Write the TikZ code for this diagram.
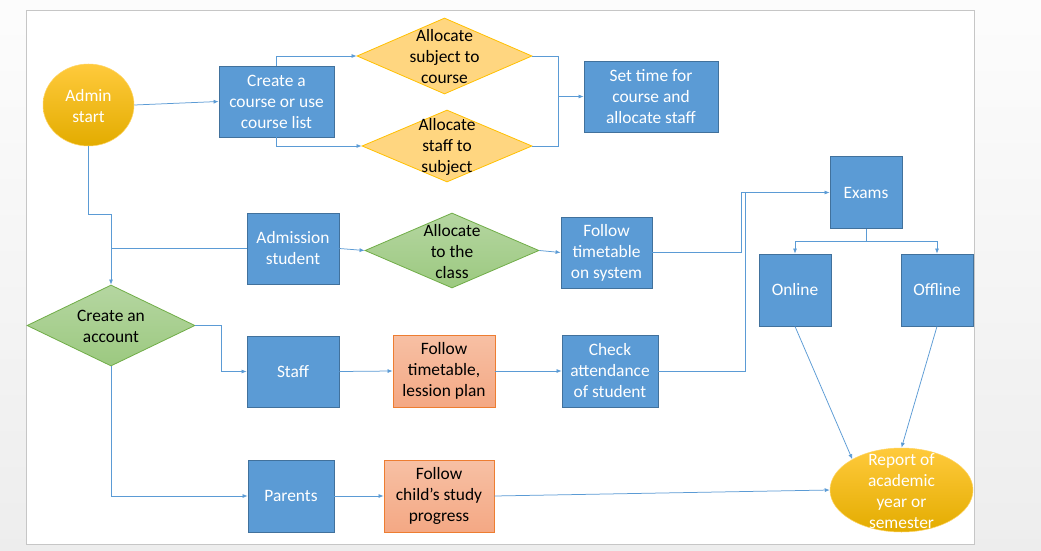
\documentclass[tikz,border=0pt]{standalone}
\usepackage{fontspec}
\setmainfont{Carlito}
\usetikzlibrary{shapes.geometric,arrows.meta}
\definecolor{bfill}{HTML}{5B9BD5}
\definecolor{bdraw}{HTML}{41719C}
\definecolor{conn}{HTML}{5B9BD5}
\definecolor{ofill}{HTML}{FFD680}
\definecolor{odraw}{HTML}{FFC000}
\definecolor{gtop}{HTML}{B5D6A1}
\definecolor{gbot}{HTML}{9CC980}
\definecolor{gdraw}{HTML}{70AD47}
\definecolor{stop}{HTML}{F7C0A4}
\definecolor{sbot}{HTML}{F4A884}
\definecolor{sdraw}{HTML}{ED7D31}
\definecolor{ytop}{HTML}{FFCA3C}
\definecolor{ymid}{HTML}{FFC000}
\definecolor{ybot}{HTML}{E3AC00}
\definecolor{framec}{HTML}{C6C6C6}
\begin{document}
\begin{tikzpicture}[x=1pt,y=-1pt,
  every node/.style={font=\fontsize{17.4pt}{21pt}\selectfont, align=center, inner sep=0pt},
  bluebox/.style={rectangle, draw=bdraw, line width=0.8pt, fill=bfill, text=white},
  salmonbox/.style={rectangle, draw=sdraw, line width=0.8pt, top color=stop, bottom color=sbot, text=black},
  odia/.style={diamond, draw=odraw, line width=0.8pt, fill=ofill},
  gdia/.style={diamond, draw=gdraw, line width=0.8pt, top color=gtop, bottom color=gbot},
  gold/.style={ellipse, draw=ytop!80!white, line width=0.5pt, top color=ytop, middle color=ymid, bottom color=ybot},
  dtxt/.style={text=black},
  wtxt/.style={text=white},
  link/.style={draw=conn, line width=0.75pt},
  arr/.style={link, -{Latex[length=5pt,width=4pt]}}
]
\useasboundingbox (0,0) rectangle (1041,551);
\shade[top color=white!99!black, bottom color=black!7] (0,0) rectangle (1041,551);
\draw[framec, fill=white, line width=0.8pt] (26,10) rectangle (974,544);

% nodes
\node[gold, minimum width=91pt, minimum height=82pt] (start) at (88.5,105) {};
\node[wtxt] (startt) at ([yshift=-1pt]start.center) {Admin\\start};
\node[bluebox, minimum width=115pt, minimum height=71pt] (course) at (276.5,101.5) {Create a\\course or use\\course list};
\node[odia, minimum width=175pt, minimum height=76pt] (subj) at (444.5,56) {};
\node[dtxt] (subjt) at ([yshift=-1pt]subj.center) {Allocate\\subject to\\course};
\node[odia, minimum width=170pt, minimum height=72pt] (stsub) at (447,146) {};
\node[dtxt] (stsubt) at ([yshift=-1pt]stsub.center) {Allocate\\staff to\\subject};
\node[bluebox, minimum width=134pt, minimum height=71pt] (settime) at (651,96.5) {Set time for\\course and\\allocate staff};

\node[bluebox, minimum width=92pt, minimum height=71pt] (adm) at (293,248.5) {Admission\\student};
\node[gdia, minimum width=174pt, minimum height=75pt] (alloc) at (452,250.5) {};
\node[dtxt] (alloct) at ([yshift=-1pt]alloc.center) {Allocate\\to the\\class};
\node[bluebox, minimum width=91pt, minimum height=71pt] (fts) at (606.5,252.5) {Follow\\timetable\\on system};

\node[gdia, minimum width=168pt, minimum height=81pt] (acct) at (111,325.5) {};
\node[dtxt] (acctt) at ([yshift=-1pt]acct.center) {Create an\\account};
\node[bluebox, minimum width=92pt, minimum height=71pt] (staff) at (293,371.5) {Staff};
\node[salmonbox, minimum width=102pt, minimum height=72pt] (lesson) at (444,371) {Follow\\timetable,\\lession plan};
\node[bluebox, minimum width=96pt, minimum height=72pt] (check) at (610,371) {Check\\attendance\\of student};

\node[bluebox, minimum width=86pt, minimum height=72pt] (parents) at (291,496) {Parents};
\node[salmonbox, minimum width=110pt, minimum height=72pt] (child) at (439,496) {Follow\\child’s study\\progress};

\node[bluebox, minimum width=72pt, minimum height=72pt] (exams) at (866,192.5) {Exams};
\node[bluebox, minimum width=72pt, minimum height=72pt] (online) at (795,290) {Online};
\node[bluebox, minimum width=72pt, minimum height=72pt] (offline) at (937,290) {Offline};
\node[gold, minimum width=143pt, minimum height=84pt] (report) at (901.5,490) {};
\node[wtxt] (reportt) at ([yshift=-1pt]report.center) {Report of\\academic\\year or\\semester};

% junction coordinates
\coordinate (j1) at (558,146);
\coordinate (j2) at (111,214);
\coordinate (j4) at (741,192.5);
\coordinate (j5) at (745,192.5);

% connectors
\draw[arr] (start.east) -- (course.west);
\draw[arr] (course.north) |- (subj.west);
\draw[arr] (course.south) |- (stsub.west);
\draw[link] (subj.east) -| (j1) -- (stsub.east);
\draw[arr] (j1 |- settime.west) -- (settime.west);

\draw[arr] (start.south) |- (j2) -- (acct.north);
\draw[link] (acct.north |- adm.west) -- (adm.west);
\draw[arr] (adm.east) -- (alloc.west);
\draw[arr] (alloc.east) -- (fts.west);
\draw[arr] (fts.east) -| (j4) -- (exams.west);
\draw[link] (check.east) -| (j5);

\draw[arr] (acct.east) -- ++(26,0) |- (staff.west);
\draw[arr] (acct.south) |- (parents.west);
\draw[arr] (staff.east) -- (lesson.west);
\draw[arr] (lesson.east) -- (check.west);
\draw[arr] (parents.east) -- (child.west);
\draw[arr] (child.east) -- (report.west);

\draw[arr] (exams.south) -- ++(0,12) -| (online.north);
\draw[arr] (exams.south) -- ++(0,12) -| (offline.north);
\draw[arr] (online.south) -- (report.148);
\draw[arr] (offline.south) -- (report.north);
\end{tikzpicture}
\end{document}
